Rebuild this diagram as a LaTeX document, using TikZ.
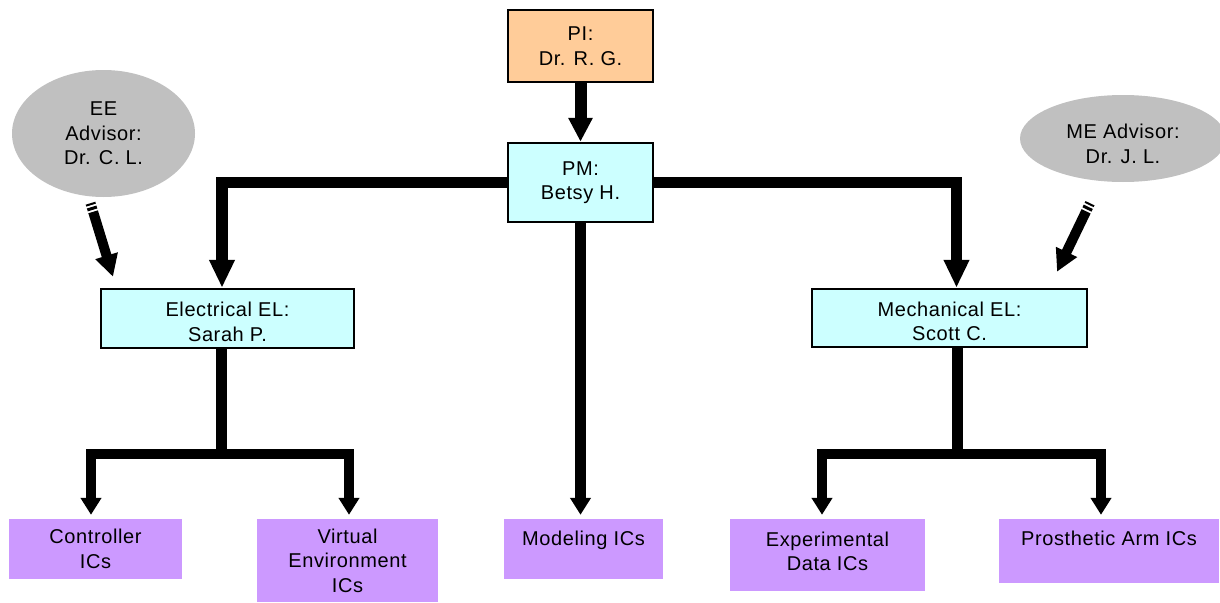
\documentclass[tikz,border=0pt]{standalone}
\usepackage{fontspec}
\setmainfont{Liberation Sans}[LetterSpace=3]
\usetikzlibrary{arrows.meta,shapes.geometric}
\definecolor{peach}{HTML}{FFCC99}
\definecolor{paleCyan}{HTML}{CCFFFF}
\definecolor{lilac}{HTML}{CC99FF}
\definecolor{advisorGray}{HTML}{C0C0C0}

\begin{document}
\begin{tikzpicture}[x=1pt,y=-1pt,
    every node/.style={font=\fontsize{20}{24.5}\selectfont, align=center, inner sep=2pt},
    lead/.style 2 args={rectangle, draw=black, line width=2.5pt, minimum width=#1, minimum height=#2},
    task/.style 2 args={rectangle, fill=lilac, minimum width=#1, minimum height=#2},
    advisor/.style 2 args={ellipse, fill=advisorGray, inner sep=0pt, minimum width=#1, minimum height=#2},
    trunk/.style={line width=11.5pt, line join=miter, -{Triangle[length=28pt,width=24pt]}},
    bar/.style={line width=11pt, line join=miter},
    twig/.style={line width=10.5pt, line join=miter, shorten >=4pt, -{Triangle[length=17pt,width=20pt]}},
    hint/.style={line width=10pt, dash pattern=on 2pt off 2pt on 3pt off 2pt on 300pt, -{Triangle[length=22pt,width=22pt]}}]
      \useasboundingbox (0,0) rectangle (1220,602);

      \node[lead={145}{72}, fill=peach] (pi) at (580.5,46) {PI:\\Dr. R. G.};
      \node[lead={145}{79}, fill=paleCyan] (pm) at (580.5,182.5) {PM:\\Betsy H.};
      \node[lead={253}{59}, fill=paleCyan, text height=46pt] (eel) at (227.5,318.5) {Electrical EL:\\Sarah P.};
      \node[lead={275}{58}, fill=paleCyan, text height=46pt] (mel) at (949.5,318) {Mechanical EL:\\Scott C.};
      \node[advisor={183}{127}] (eea) at (103.5,133.5) {EE\\Advisor:\\Dr. C. L.};
      \node[advisor={206}{87}, text height=50pt] (mea) at (1123,138.5) {ME Advisor:\\Dr. J. L.};
      \node[task={173}{60}] (ctrl) at (95.5,549) {Controller\\ICs};
      \node[task={181}{83}] (virt) at (347.5,560.5) {Virtual\\Environment\\ICs};
      \node[task={159}{60}, text depth=22pt] (model) at (583.5,549) {Modeling ICs};
      \node[task={195}{72}, text depth=8pt] (expd) at (827.5,555) {Experimental\\Data ICs};
      \node[task={220}{64}, text depth=26pt] (arm) at (1109,551) {Prosthetic Arm ICs};
      \coordinate (ebar) at (221.5,454);
      \coordinate (mbar) at (957,454);

      \draw[trunk, line width=12pt, -{Triangle[length=24pt,width=23pt]}] (pi) -- (pm);
      \draw[trunk] (pm.west) -| ([xshift=-5.5pt]eel.north);
      \draw[trunk] (pm.east) -| ([xshift=7pt]mel.north);
      \draw[twig] (pm.south) -- (pm.south |- model.north);
      \draw[bar] (eel.south -| ebar) -- (ebar);
      \draw[twig] (ebar) -| ([xshift=-4.5pt]ctrl.north);
      \draw[twig] (ebar) -| ([xshift=1.5pt]virt.north);
      \draw[bar] (mel.south -| mbar) -- (mbar);
      \draw[twig] (mbar) -| ([xshift=-5.5pt]expd.north);
      \draw[twig] (mbar) -| ([xshift=-8pt]arm.north);
      \draw[hint] ([xshift=-13pt,yshift=-6pt]eea.south) -- ([xshift=-114.5pt,yshift=11pt]eel.north);
      \draw[hint] ([xshift=-33pt,yshift=-21pt]mea.south) -- ([xshift=107.5pt,yshift=16pt]mel.north);
    \end{tikzpicture}
\end{document}
